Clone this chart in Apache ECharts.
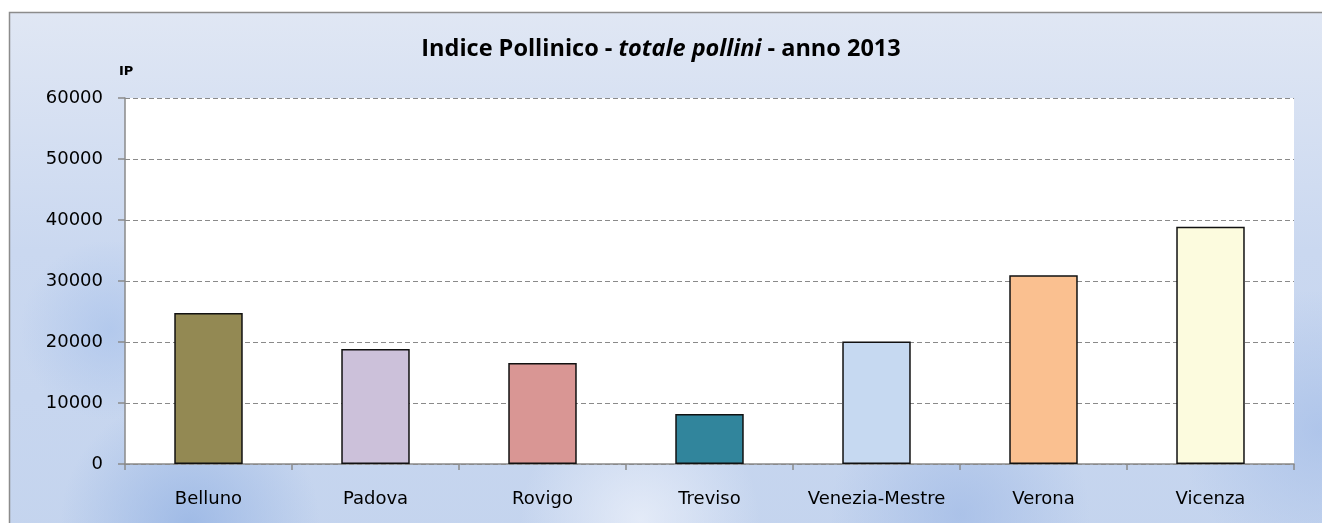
<!DOCTYPE html>
<html><head><meta charset="utf-8">
<script src="https://cdn.jsdelivr.net/npm/echarts@6/dist/echarts.min.js"></script>
<style>html,body{margin:0;padding:0;background:#fff}#c{width:1322px;height:523px}</style>
</head><body><div id="c"></div>
<script>
const categories = ['Belluno','Padova','Rovigo','Treviso','Venezia-Mestre','Verona','Vicenza'];
const values = [24750, 18850, 16550, 8200, 20100, 30950, 38900];
const barColors = ['#938953','#ccc1da','#d99694','#31859c','#c6d9f1','#fac090','#fcfbde'];
const yTicks = [0, 10000, 20000, 30000, 40000, 50000, 60000];

const chart = echarts.init(document.getElementById('c'));
const bgFill = {
  type: 'linear', x: 0, y: 0, x2: 0, y2: 1,
  colorStops: [{offset: 0, color: '#e0e7f4'}, {offset: 0.45, color: '#cad8f0'}, {offset: 1, color: '#c4d4ee'}]
};
chart.setOption({
  animation: false,
  graphic: [
    {type: 'rect', z: -10, shape: {x: 9.5, y: 12.5, width: 1330, height: 530}, style: {fill: bgFill, stroke: '#8c8c8c', lineWidth: 1.5}},
    {type: 'circle', z: -9, shape: {cx: 190, cy: 525, r: 130}, style: {fill: {type: 'radial', x: 0.5, y: 0.5, r: 0.5, colorStops: [{offset: 0, color: 'rgba(150,180,228,0.8)'}, {offset: 1, color: 'rgba(150,180,228,0)'}]}}},
    {type: 'circle', z: -9, shape: {cx: 640, cy: 520, r: 120}, style: {fill: {type: 'radial', x: 0.5, y: 0.5, r: 0.5, colorStops: [{offset: 0, color: 'rgba(235,240,250,0.8)'}, {offset: 1, color: 'rgba(235,240,250,0)'}]}}},
    {type: 'circle', z: -9, shape: {cx: 960, cy: 515, r: 130}, style: {fill: {type: 'radial', x: 0.5, y: 0.5, r: 0.5, colorStops: [{offset: 0, color: 'rgba(160,186,230,0.7)'}, {offset: 1, color: 'rgba(160,186,230,0)'}]}}},
    {type: 'circle', z: -9, shape: {cx: 1320, cy: 430, r: 140}, style: {fill: {type: 'radial', x: 0.5, y: 0.5, r: 0.5, colorStops: [{offset: 0, color: 'rgba(165,190,232,0.7)'}, {offset: 1, color: 'rgba(165,190,232,0)'}]}}},
    {type: 'circle', z: -9, shape: {cx: 110, cy: 330, r: 90}, style: {fill: {type: 'radial', x: 0.5, y: 0.5, r: 0.5, colorStops: [{offset: 0, color: 'rgba(170,195,235,0.7)'}, {offset: 1, color: 'rgba(170,195,235,0)'}]}}},
    {type: 'text', left: 'center', top: 37, style: {
      rich: {b: {fontFamily: 'Open Sans', fontWeight: 'bold', fontSize: 23.5, fill: '#000'}, i: {fontFamily: 'Open Sans', fontWeight: 'bold', fontStyle: 'italic', fontSize: 23.5, fill: '#000'}},
      text: '{b|Indice Pollinico - }{i|totale pollini}{b| - anno 2013}'
    }}
  ],
  grid: {left: 125, right: 28, top: 98, bottom: 59, show: true, backgroundColor: '#ffffff', borderWidth: 0},
  xAxis: {
    type: 'category', data: categories,
    axisLine: {lineStyle: {color: '#8a8a8a', width: 1.5}},
    axisTick: {show: true, interval: 0, length: 6, lineStyle: {color: '#8a8a8a', width: 1.5}},
    axisLabel: {interval: 0, color: '#000', fontSize: 18, fontFamily: 'DejaVu Sans', margin: 26}
  },
  yAxis: {
    type: 'value', min: 0, max: 60000, interval: 10000,
    name: 'IP', nameGap: 20, nameLocation: 'end',
    nameTextStyle: {fontWeight: 'bold', fontSize: 13, fontFamily: 'DejaVu Sans', color: '#000', align: 'left', padding: [0,0,0,-6]},
    axisLine: {show: true, lineStyle: {color: '#8a8a8a', width: 1.5}},
    axisTick: {show: true, length: 7, lineStyle: {color: '#8a8a8a', width: 1.5}},
    axisLabel: {color: '#000', fontSize: 18, fontFamily: 'DejaVu Sans', margin: 22,
      formatter: v => yTicks.includes(v) ? String(v) : ''},
    splitLine: {show: true, lineStyle: {color: '#8a8a8a', type: [5, 3], width: 1.2}}
  },
  series: [{
    type: 'bar', barWidth: '41%',
    data: values.map((v, i) => ({value: v, itemStyle: {color: barColors[i]}})),
    itemStyle: {borderColor: '#111', borderWidth: 1.5}
  }]
});
</script></body></html>
